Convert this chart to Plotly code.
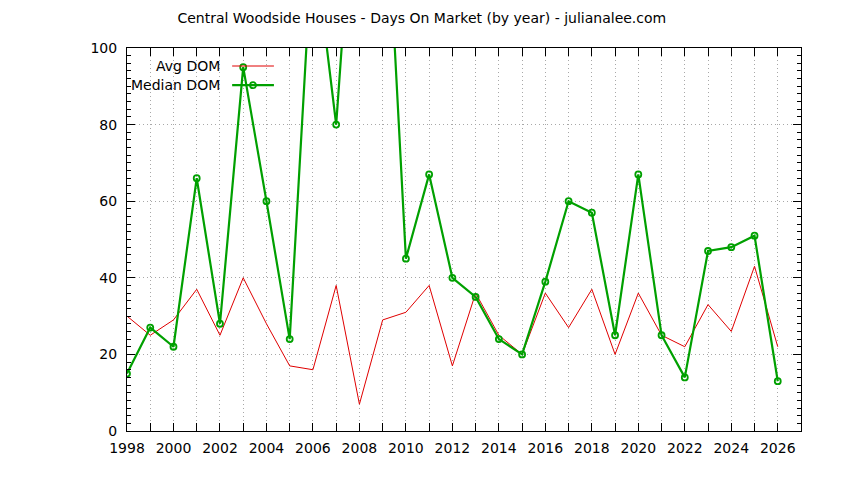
import plotly.graph_objects as go

# values (days on market per year)
years = list(range(1998, 2027))
avg_dom = [30, 25, 29, 37, 25, 40, 28, 17, 16, 38, 7, 29, 31, 38, 17, 36,
           25, 20, 36, 27, 37, 20, 36, 25, 22, 33, 26, 43, 22]
median_dom = [15, 27, 22, 66, 28, 95, 60, 24, 130, 80, 165, 160, 45, 67, 40, 35,
              24, 20, 39, 60, 57, 25, 67, 25, 14, 47, 48, 51, 13]
x_ticktext = [str(y) if y % 2 == 0 else "" for y in years]

RED = "#e00000"
GREEN = "#00a000"
FONT = "DejaVu Sans"

fig = go.Figure()

fig.add_trace(go.Scatter(
    x=years, y=avg_dom, name="Avg DOM", mode="lines",
    line=dict(color=RED, width=1),
))
fig.add_trace(go.Scatter(
    x=years, y=median_dom, name="Median DOM", mode="lines+markers",
    line=dict(color=GREEN, width=2.2),
    marker=dict(symbol="circle-open", size=6, color=GREEN, line=dict(width=1.8)),
    cliponaxis=True,
))

# legend drawn by hand, gnuplot style (text then sample)
fig.add_annotation(x=0.141, y=0.953, xref="paper", yref="paper", text="Avg DOM",
                   showarrow=False, xanchor="right", yanchor="middle",
                   font=dict(family=FONT, size=14, color="black"))
fig.add_annotation(x=0.141, y=0.903, xref="paper", yref="paper", text="Median DOM",
                   showarrow=False, xanchor="right", yanchor="middle",
                   font=dict(family=FONT, size=14, color="black"))
fig.add_shape(type="line", xref="paper", yref="paper", x0=0.156, x1=0.218,
              y0=0.953, y1=0.953, line=dict(color=RED, width=1))
fig.add_shape(type="line", xref="paper", yref="paper", x0=0.156, x1=0.218,
              y0=0.903, y1=0.903, line=dict(color=GREEN, width=2.2))
fig.add_shape(type="circle", xref="paper", yref="paper", xsizemode="pixel", ysizemode="pixel",
              xanchor=0.187, yanchor=0.903, x0=-3, x1=3, y0=-3, y1=3,
              line=dict(color=GREEN, width=1.8))

# page has an 8px body margin, so the figure is a bit smaller than the window
fig.update_layout(
    width=836, height=472,
    margin=dict(l=119, r=43, t=40, b=49),
    paper_bgcolor="white", plot_bgcolor="white",
    showlegend=False,
    font=dict(family=FONT, size=14, color="black"),
    title=dict(text="Central Woodside Houses - Days On Market (by year) - julianalee.com",
               x=0.495, xref="container", y=0.979, yref="container",
               xanchor="center", yanchor="middle",
               font=dict(family=FONT, size=14, color="black")),
)

fig.update_xaxes(
    range=[1998, 2027], tickvals=years, ticktext=x_ticktext,
    ticks="inside", ticklen=8, tickcolor="black",
    showline=True, linecolor="black", linewidth=1, mirror="ticks",
    showgrid=True, gridcolor="#a8a8a8", griddash="1px,3px", gridwidth=1,
    zeroline=False, ticklabelstandoff=4,
)
fig.update_yaxes(
    range=[0, 100], tickmode="linear", tick0=0, dtick=20,
    ticks="inside", ticklen=8, tickcolor="black",
    minor=dict(tickmode="linear", tick0=0, dtick=2, ticks="inside", ticklen=4,
               tickcolor="black", showgrid=False),
    showline=True, linecolor="black", linewidth=1, mirror="ticks",
    showgrid=True, gridcolor="#a8a8a8", griddash="1px,3px", gridwidth=1,
    zeroline=False, ticklabelstandoff=6,
)

fig.write_html("out.html")
